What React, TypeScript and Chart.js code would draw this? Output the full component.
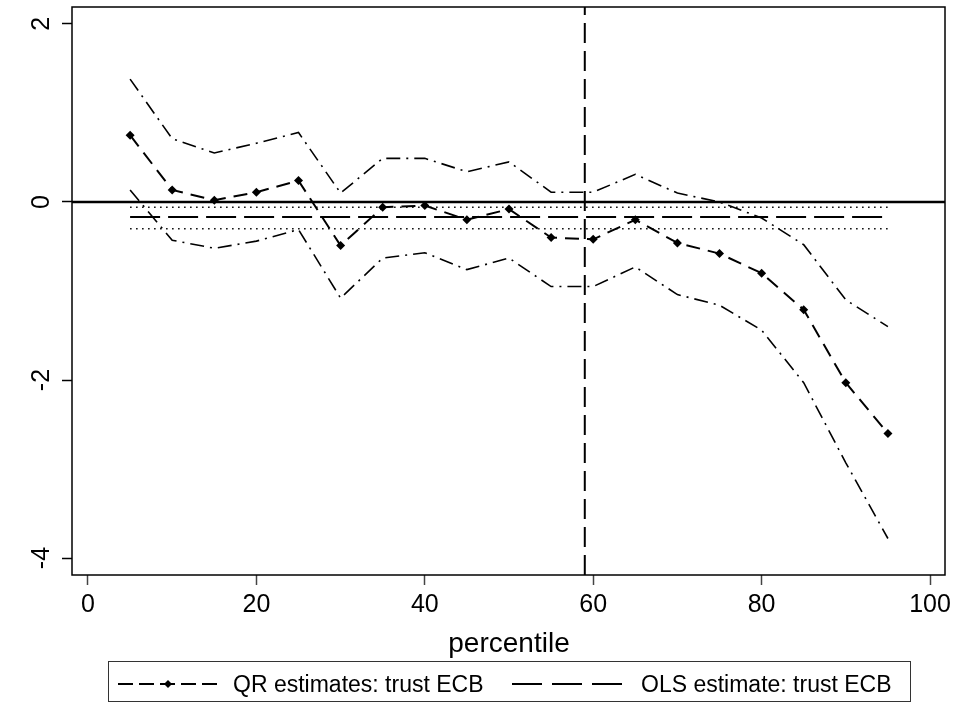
import React, { useEffect, useRef } from "react";
import { Chart, registerables } from "chart.js";

Chart.register(...registerables);

const percentiles = [5, 10, 15, 20, 25, 30, 35, 40, 45, 50, 55, 60, 65, 70, 75, 80, 85, 90, 95];
const qrEstimates = [0.75, 0.135, 0.02, 0.11, 0.24, -0.49, -0.06, -0.04, -0.2, -0.08, -0.4, -0.42, -0.2, -0.46, -0.58, -0.8, -1.21, -2.03, -2.6];
const upperCI = [1.38, 0.71, 0.55, 0.66, 0.78, 0.1, 0.49, 0.49, 0.34, 0.45, 0.11, 0.11, 0.31, 0.1, 0.0, -0.18, -0.48, -1.1, -1.4];
const lowerCI = [0.135, -0.43, -0.52, -0.44, -0.31, -1.08, -0.63, -0.57, -0.76, -0.63, -0.95, -0.95, -0.73, -1.04, -1.16, -1.44, -2.03, -2.93, -3.78];
const olsEstimate = -0.17;
const olsUpper = -0.06;
const olsLower = -0.3;
const olsRange = [5, 95];
const verticalLineX = 59;
const xTicks = [0, 20, 40, 60, 80, 100];
const yTicks = [-4, -2, 0, 2];
const xRange = [-1.9, 101.78];
const yRange = [-4.19, 2.19];
const xTitle = "percentile";
const legendLabels = ["QR estimates: trust ECB", "OLS estimate: trust ECB"];

const FONT = "'Liberation Sans', Arial, sans-serif";

const decorPlugin = {
  id: "decor",
  afterDraw(chart: any) {
    const { ctx, chartArea, scales } = chart;
    const ys = scales.y;
    ctx.save();
    // frame
    ctx.strokeStyle = "#000";
    ctx.lineWidth = 1.5;
    ctx.setLineDash([]);
    ctx.strokeRect(chartArea.left, chartArea.top, chartArea.right - chartArea.left, chartArea.bottom - chartArea.top);
    // rotated y tick labels
    ctx.fillStyle = "#000";
    ctx.font = `25px ${FONT}`;
    ctx.textAlign = "center";
    ctx.textBaseline = "alphabetic";
    yTicks.forEach((v) => {
      const py = ys.getPixelForValue(v);
      ctx.save();
      ctx.translate(49, py);
      ctx.rotate(-Math.PI / 2);
      ctx.fillText(String(v), 0, 0);
      ctx.restore();
    });
    // x title
    ctx.font = `28px ${FONT}`;
    ctx.fillText(xTitle, 509, 652);
    // legend box
    ctx.strokeStyle = "#333";
    ctx.lineWidth = 1;
    ctx.strokeRect(108.5, 661.5, 802, 40);
    const ly = 684;
    ctx.strokeStyle = "#000";
    ctx.lineWidth = 2;
    // sample 1: short dashes with diamond
    ctx.setLineDash([15, 6]);
    ctx.beginPath();
    ctx.moveTo(118, ly);
    ctx.lineTo(219, ly);
    ctx.stroke();
    ctx.setLineDash([]);
    ctx.beginPath();
    ctx.moveTo(168, ly - 4);
    ctx.lineTo(172, ly);
    ctx.lineTo(168, ly + 4);
    ctx.lineTo(164, ly);
    ctx.closePath();
    ctx.fill();
    // sample 2: long dashes
    ctx.setLineDash([30, 10]);
    ctx.beginPath();
    ctx.moveTo(512, ly);
    ctx.lineTo(622, ly);
    ctx.stroke();
    ctx.setLineDash([]);
    ctx.font = `23px ${FONT}`;
    ctx.textAlign = "left";
    ctx.fillText(legendLabels[0], 233, 692);
    ctx.fillText(legendLabels[1], 641, 692);
    ctx.restore();
  },
};

export default function App() {
  const ref = useRef<HTMLCanvasElement>(null);
  useEffect(() => {
    if (!ref.current) return;
    const pts = (ys: number[]) => percentiles.map((x, i) => ({ x, y: ys[i] }));
    const hline = (y: number) => [{ x: olsRange[0], y }, { x: olsRange[1], y }];
    const chart = new Chart(ref.current, {
      type: "line",
      data: {
        datasets: [
          {
            label: "zero",
            data: [{ x: xRange[0], y: 0 }, { x: xRange[1], y: 0 }],
            borderColor: "#000",
            borderWidth: 2.5,
            pointRadius: 0,
          },
          {
            label: "vline",
            data: [{ x: verticalLineX, y: yRange[0] }, { x: verticalLineX, y: yRange[1] }],
            borderColor: "#000",
            borderWidth: 2,
            borderDash: [20, 8],
            pointRadius: 0,
          },
          {
            label: "OLS upper",
            data: hline(olsUpper),
            borderColor: "#000",
            borderWidth: 1.5,
            borderDash: [1.5, 4.5],
            pointRadius: 0,
          },
          {
            label: "OLS lower",
            data: hline(olsLower),
            borderColor: "#000",
            borderWidth: 1.5,
            borderDash: [1.5, 4.5],
            pointRadius: 0,
          },
          {
            label: legendLabels[1],
            data: hline(olsEstimate),
            borderColor: "#000",
            borderWidth: 2,
            borderDash: [30, 8],
            pointRadius: 0,
          },
          {
            label: "upper",
            data: pts(upperCI),
            borderColor: "#000",
            borderWidth: 1.6,
            borderDash: [14, 6, 2, 6],
            pointRadius: 0,
          },
          {
            label: "lower",
            data: pts(lowerCI),
            borderColor: "#000",
            borderWidth: 1.6,
            borderDash: [14, 6, 2, 6],
            pointRadius: 0,
          },
          {
            label: legendLabels[0],
            data: pts(qrEstimates),
            borderColor: "#000",
            backgroundColor: "#000",
            borderWidth: 2,
            borderDash: [14, 8],
            pointStyle: "rectRot",
            pointRadius: 4.5,
            pointBorderWidth: 0,
          },
        ],
      },
      options: {
        animation: false,
        responsive: false,
        devicePixelRatio: 1,
        layout: { padding: { left: 0, top: 7, right: 13, bottom: 0 } },
        plugins: { legend: { display: false }, tooltip: { enabled: false } },
        elements: { line: { tension: 0, fill: false } },
        scales: {
          x: {
            type: "linear",
            min: xRange[0],
            max: xRange[1],
            afterBuildTicks: (s: any) => {
              s.ticks = xTicks.map((v) => ({ value: v }));
            },
            afterFit: (s: any) => {
              s.height = 134;
            },
            grid: { drawOnChartArea: false, drawTicks: true, tickLength: 10, tickColor: "#444", tickWidth: 1.5 },
            border: { display: false },
            ticks: {
              color: "#000",
              font: { family: FONT, size: 25 },
              padding: 5,
              maxRotation: 0,
              callback: (v: any) => String(v),
            },
          },
          y: {
            type: "linear",
            min: yRange[0],
            max: yRange[1],
            afterBuildTicks: (s: any) => {
              s.ticks = yTicks.map((v) => ({ value: v }));
            },
            afterFit: (s: any) => {
              s.width = 72;
            },
            grid: { drawOnChartArea: false, drawTicks: true, tickLength: 10, tickColor: "#000", tickWidth: 1.5 },
            border: { display: false },
            ticks: { display: false },
          },
        },
      },
      plugins: [decorPlugin],
    } as any);
    return () => chart.destroy();
  }, []);
  return (
    <div style={{ position: "absolute", left: 0, top: 0, width: 958, height: 709, background: "#fff" }}>
      <canvas ref={ref} width={958} height={709} style={{ display: "block" }} />
    </div>
  );
}
